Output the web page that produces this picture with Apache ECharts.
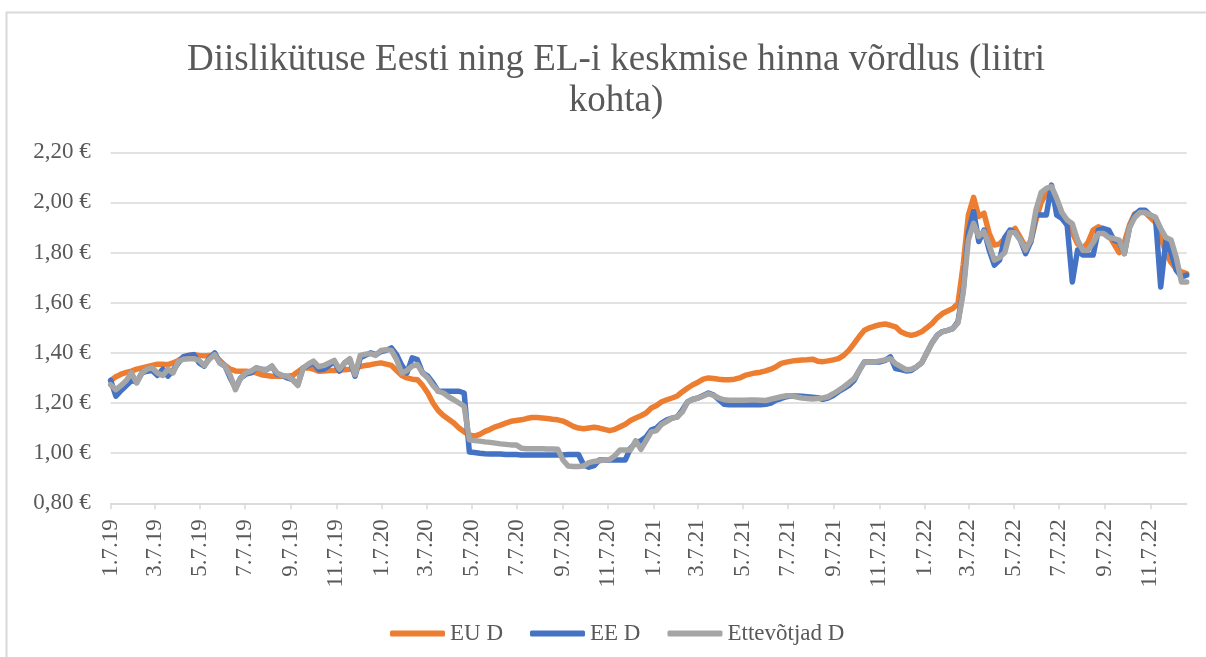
<!DOCTYPE html>
<html>
<head>
<meta charset="utf-8">
<script src="https://cdn.jsdelivr.net/npm/echarts@6/dist/echarts.min.js"></script>
<style>
  html, body { margin: 0; padding: 0; background: #fff; }
  #chart { width: 1206px; height: 657px; }
</style>
</head>
<body>
<div id="chart"></div>
<script>
// weekly values, first week = 7 Jan 2019 (Mondays)
const startDate = [2019, 0, 7];
const seriesNames = ["EU D", "EE D", "Ettevõtjad D"];

const euD = [
  1.29, 1.305, 1.315, 1.322, 1.327, 1.335, 1.34, 1.345, 1.35, 1.355,
  1.355, 1.353, 1.36, 1.37, 1.383, 1.39, 1.393, 1.39, 1.388, 1.39,
  1.39, 1.37, 1.35, 1.335, 1.328, 1.327, 1.327, 1.325, 1.32, 1.313,
  1.31, 1.307, 1.307, 1.307, 1.307, 1.31, 1.325, 1.34, 1.34, 1.335,
  1.327, 1.328, 1.33, 1.33, 1.332, 1.333, 1.335, 1.34, 1.345, 1.35,
  1.353, 1.357, 1.36, 1.355, 1.35, 1.33, 1.31, 1.30, 1.295, 1.293,
  1.27, 1.24, 1.20, 1.17, 1.15, 1.135, 1.12, 1.10, 1.085, 1.073,
  1.068, 1.075, 1.087, 1.095, 1.105, 1.112, 1.12, 1.127, 1.13, 1.133,
  1.138, 1.142, 1.142, 1.14, 1.138, 1.135, 1.133, 1.128, 1.118, 1.107,
  1.10, 1.097, 1.10, 1.103, 1.10, 1.095, 1.09, 1.095, 1.105, 1.115,
  1.13, 1.14, 1.149, 1.16, 1.18, 1.19, 1.205, 1.213, 1.22, 1.228,
  1.245, 1.26, 1.273, 1.283, 1.295, 1.30, 1.298, 1.295, 1.293, 1.293,
  1.295, 1.30, 1.31, 1.315, 1.32, 1.323, 1.328, 1.335, 1.345, 1.358,
  1.363, 1.367, 1.37, 1.372, 1.373, 1.375, 1.367, 1.365, 1.368, 1.372,
  1.377, 1.39, 1.41, 1.437, 1.465, 1.49, 1.50, 1.507, 1.512, 1.515,
  1.51, 1.504, 1.484, 1.475, 1.47, 1.475, 1.484, 1.50, 1.517, 1.54,
  1.557, 1.567, 1.577, 1.597, 1.75, 1.95, 2.02, 1.944, 1.957, 1.877,
  1.83, 1.835, 1.856, 1.88, 1.896, 1.86, 1.823, 1.843, 1.93, 2.00,
  2.036, 2.05, 1.97, 1.945, 1.91, 1.88, 1.835, 1.815, 1.84, 1.89,
  1.903, 1.896, 1.87, 1.835, 1.80, 1.84, 1.91, 1.955, 1.963, 1.96,
  1.94, 1.92, 1.86, 1.80, 1.76, 1.735, 1.723, 1.716
];

const eeD = [
  1.29, 1.227, 1.25, 1.27, 1.29, 1.283, 1.32, 1.327, 1.33, 1.31,
  1.335, 1.307, 1.33, 1.36, 1.385, 1.39, 1.393, 1.36, 1.347, 1.38,
  1.40, 1.36, 1.347, 1.30, 1.26, 1.30, 1.315, 1.32, 1.34, 1.335,
  1.333, 1.347, 1.315, 1.31, 1.30, 1.293, 1.273, 1.34, 1.35, 1.36,
  1.333, 1.335, 1.35, 1.365, 1.327, 1.36, 1.373, 1.307, 1.38, 1.39,
  1.40, 1.393, 1.405, 1.41, 1.42, 1.393, 1.35, 1.32, 1.38, 1.373,
  1.32, 1.307, 1.28, 1.247, 1.247, 1.247, 1.247, 1.247, 1.24, 1.005,
  1.003, 1.0, 0.998, 0.997, 0.997, 0.997, 0.995, 0.995, 0.995, 0.993,
  0.993, 0.993, 0.993, 0.993, 0.993, 0.993, 0.993, 0.993, 0.995, 0.995,
  0.995, 0.953, 0.944, 0.95, 0.973, 0.973, 0.973, 0.973, 0.973, 0.973,
  1.02, 1.04, 1.05, 1.065, 1.093, 1.10, 1.12, 1.133, 1.14, 1.145,
  1.173, 1.205, 1.215, 1.22, 1.23, 1.24, 1.232, 1.213, 1.195, 1.193,
  1.193, 1.193, 1.193, 1.193, 1.193, 1.193, 1.195, 1.20, 1.212, 1.218,
  1.225, 1.229, 1.228, 1.227, 1.225, 1.223, 1.221, 1.215, 1.22, 1.23,
  1.245, 1.257, 1.27, 1.29, 1.33, 1.364, 1.364, 1.364, 1.364, 1.37,
  1.384, 1.337, 1.333, 1.328, 1.33, 1.344, 1.36, 1.40, 1.44, 1.47,
  1.485, 1.49, 1.497, 1.525, 1.65, 1.88, 1.964, 1.844, 1.89, 1.81,
  1.75, 1.77, 1.86, 1.89, 1.88, 1.85, 1.796, 1.843, 1.95, 1.95,
  1.95, 2.069, 1.949, 1.936, 1.91, 1.683, 1.81, 1.79, 1.79, 1.79,
  1.89, 1.896, 1.89, 1.85, 1.843, 1.796, 1.90, 1.95, 1.969, 1.969,
  1.949, 1.94, 1.663, 1.85, 1.80, 1.729, 1.703, 1.71
];

const ettevotjadD = [
  1.273, 1.253, 1.27, 1.29, 1.32, 1.28, 1.32, 1.335, 1.34, 1.32,
  1.31, 1.335, 1.32, 1.365, 1.375, 1.377, 1.377, 1.37, 1.35, 1.375,
  1.393, 1.36, 1.347, 1.31, 1.253, 1.30, 1.32, 1.327, 1.34, 1.335,
  1.333, 1.347, 1.32, 1.31, 1.307, 1.293, 1.27, 1.34, 1.355, 1.367,
  1.345, 1.35, 1.36, 1.37, 1.335, 1.36, 1.377, 1.313, 1.39, 1.395,
  1.397, 1.39, 1.41, 1.413, 1.41, 1.373, 1.32, 1.33, 1.347, 1.353,
  1.32, 1.30, 1.27, 1.247, 1.24, 1.225, 1.213, 1.20, 1.187, 1.053,
  1.05, 1.048, 1.045, 1.043, 1.04, 1.037, 1.035, 1.033, 1.033, 1.02,
  1.018, 1.018, 1.018, 1.018, 1.017, 1.017, 1.016, 0.973, 0.949, 0.947,
  0.947, 0.949, 0.962, 0.967, 0.97, 0.973, 0.975, 0.99, 1.013, 1.013,
  1.013, 1.05, 1.015, 1.05, 1.085, 1.09, 1.115, 1.127, 1.14, 1.145,
  1.165, 1.205, 1.215, 1.22, 1.228, 1.237, 1.23, 1.22, 1.213, 1.211,
  1.211, 1.211, 1.211, 1.212, 1.212, 1.211, 1.21, 1.215, 1.22, 1.225,
  1.229, 1.229, 1.224, 1.22, 1.218, 1.216, 1.218, 1.22, 1.225, 1.237,
  1.25, 1.264, 1.28, 1.297, 1.33, 1.364, 1.364, 1.364, 1.368, 1.372,
  1.377, 1.357, 1.345, 1.333, 1.335, 1.344, 1.36, 1.40, 1.44, 1.47,
  1.484, 1.49, 1.497, 1.52, 1.64, 1.85, 1.917, 1.864, 1.884, 1.83,
  1.77, 1.78, 1.80, 1.88, 1.88, 1.85, 1.81, 1.85, 1.97, 2.04,
  2.056, 2.063, 2.016, 1.96, 1.93, 1.915, 1.85, 1.809, 1.809, 1.84,
  1.876, 1.876, 1.86, 1.856, 1.85, 1.796, 1.90, 1.94, 1.96, 1.96,
  1.95, 1.94, 1.896, 1.86, 1.85, 1.78, 1.683, 1.683
];

const colors = ["#ED7D31", "#4472C4", "#A5A5A5"];
const textColor = "#595959";
const font = "'Liberation Serif', 'Times New Roman', serif";

// one category per day, so the axis behaves like Excel's date axis
const dayCount = (euD.length - 1) * 7 + 1;
const t0 = Date.UTC(startDate[0], startDate[1], startDate[2]);
const days = [];
const isMark = [];
for (let d = 0; d < dayCount; d++) {
  const dt = new Date(t0 + d * 86400000);
  const m = dt.getUTCMonth();
  days.push((m + 1) + "." + dt.getUTCDate() + "." + String(dt.getUTCFullYear()).slice(2));
  isMark.push(dt.getUTCDate() === 7 && m % 2 === 0);
}

const toPoints = (arr) => arr.map((v, k) => [k * 7, v]);

const chart = echarts.init(document.getElementById("chart"));

const option = {
  animation: false,
  backgroundColor: "#fff",
  color: colors,
  title: {
    text: "Diislikütuse Eesti ning EL-i keskmise hinna võrdlus (liitri\nkohta)",
    left: 611,
    top: 35,
    textAlign: "center",
    textStyle: {
      fontFamily: font,
      fontSize: 37,
      fontWeight: "normal",
      color: textColor,
      lineHeight: 41,
    },
  },
  legend: {
    left: 385,
    top: 617,
    itemWidth: 55,
    itemHeight: 6,
    itemGap: 27,
    icon: "roundRect",
    textStyle: { fontFamily: font, fontSize: 23, color: textColor },
    data: seriesNames,
  },
  graphic: [
    {
      type: "rect",
      shape: { x: 6.5, y: 12.5, width: 1300, height: 700 },
      style: { fill: "none", stroke: "#d9d9d9", lineWidth: 2 },
      silent: true,
    },
  ],
  grid: {
    left: 110.7,
    top: 152.3,
    right: 19.3,
    bottom: 153.7,
    outerBoundsMode: "none",
  },
  xAxis: {
    type: "category",
    data: days,
    boundaryGap: false,
    axisLine: { lineStyle: { color: "#d9d9d9", width: 1.5 } },
    axisTick: {
      show: true,
      length: 6,
      interval: (i) => isMark[i],
      lineStyle: { color: "#d9d9d9", width: 1.5 },
    },
    axisLabel: {
      interval: (i) => isMark[i],
      rotate: 90,
      margin: 16,
      fontFamily: font,
      fontSize: 23,
      color: textColor,
    },
    splitLine: { show: false },
  },
  yAxis: {
    type: "value",
    min: 0.8,
    max: 2.2,
    interval: 0.2,
    axisLine: { show: false },
    axisTick: { show: false },
    axisLabel: {
      margin: 20,
      fontFamily: font,
      fontSize: 23,
      color: textColor,
      formatter: (v) => v.toFixed(2).replace(".", ",") + " €",
    },
    splitLine: { lineStyle: { color: "#d9d9d9", width: 1.5 } },
  },
  series: [
    { name: seriesNames[0], data: toPoints(euD) },
    { name: seriesNames[1], data: toPoints(eeD) },
    { name: seriesNames[2], data: toPoints(ettevotjadD) },
  ].map((s) => ({
    ...s,
    type: "line",
    showSymbol: false,
    symbol: "none",
    lineStyle: { width: 5.5, join: "round", cap: "round" },
  })),
};

chart.setOption(option);
</script>
</body>
</html>
